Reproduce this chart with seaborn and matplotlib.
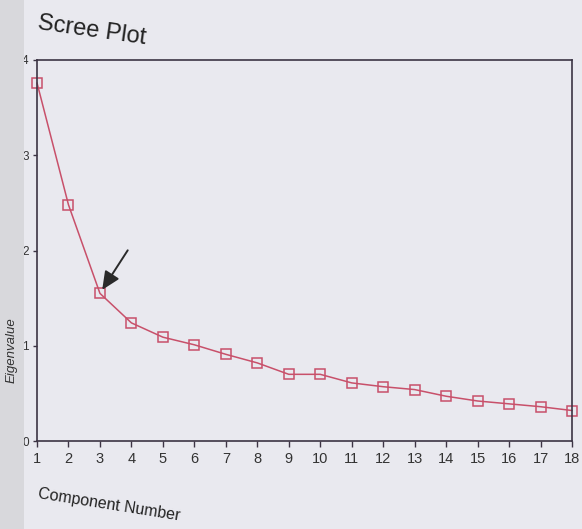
import matplotlib
matplotlib.use("Agg")
import matplotlib.pyplot as plt
import seaborn as sns
import pandas as pd
from matplotlib.patches import Rectangle

# Eigenvalues of the 18 extracted components
components = list(range(1, 19))
eigenvalues = [3.76, 2.48, 1.55, 1.24, 1.09, 1.01, 0.91, 0.82, 0.70,
               0.70, 0.61, 0.57, 0.54, 0.47, 0.42, 0.39, 0.36, 0.32]
y_ticks = [0, 1, 2, 3, 4]

page = "#e9e9ef"
line_col = "#c8506a"
frame_col = "#3c3444"

sns.set_style("white")
plt.rcParams["font.family"] = ["Liberation Sans", "DejaVu Sans"]

fig = plt.figure(figsize=(5.82, 5.29), dpi=100, facecolor=page)
# darker page margin along the left edge
fig.patches.append(Rectangle((0, 0), 24 / 582, 1, transform=fig.transFigure,
                             facecolor="#d8d8dc", edgecolor="none", zorder=0))

ax = fig.add_axes([37 / 582, 1 - 441 / 529, 535 / 582, 381 / 529])
ax.set_facecolor(page)

df = pd.DataFrame({"Component Number": components, "Eigenvalue": eigenvalues})
sns.lineplot(data=df, x="Component Number", y="Eigenvalue", ax=ax,
             color=line_col, linewidth=1.1, marker="s", markersize=6.5,
             markerfacecolor="none", markeredgecolor=line_col,
             markeredgewidth=1.1, clip_on=False)

ax.set_xlim(1, 18)
ax.set_ylim(0, 4)
ax.set_xticks(components)
ax.set_yticks(y_ticks)
ax.tick_params(axis="x", labelsize=10.5, length=4, width=1.0,
               color=frame_col, labelcolor="#333333", pad=4)
ax.tick_params(axis="y", labelsize=8.5, length=3, width=1.0,
               color=frame_col, labelcolor="#333333", pad=3)
ax.tick_params(bottom=True, left=True)
for s in ax.spines.values():
    s.set_visible(True)
    s.set_color(frame_col)
    s.set_linewidth(1.2)
ax.set_xlabel("")
ax.set_ylabel("")

# arrow marking the elbow at component 3
ax.annotate("", xy=(components[2], eigenvalues[2]), xytext=(20, 31),
            textcoords="offset points",
            arrowprops=dict(arrowstyle="-|>,head_length=1.1,head_width=0.5",
                            color="#2a2a2a", lw=1.4, shrinkA=0, shrinkB=3))

fig.text(37 / 582, 1 - 29 / 529, "Scree Plot", fontsize=17, color="#222222",
         ha="left", va="baseline", rotation=-8, rotation_mode="anchor")
fig.text(37 / 582, 1 - 498 / 529, "Component Number", fontsize=11.5,
         color="#222222", ha="left", va="baseline", rotation=-9,
         rotation_mode="anchor")
fig.text(12 / 582, 1 - 350 / 529, "Eigenvalue", fontsize=9.5,
         style="italic", color="#333333", ha="center", va="center",
         rotation=90)

fig.savefig("out.png", dpi=100, facecolor=page)
